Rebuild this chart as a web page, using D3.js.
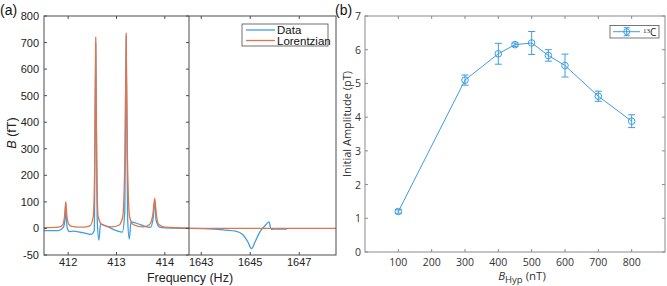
<!DOCTYPE html>
<html>
<head>
<meta charset="utf-8">
<script src="https://cdn.jsdelivr.net/npm/d3@7"></script>
<style>
  html, body { margin: 0; padding: 0; background: #fff; }
  svg { display: block; }
</style>
</head>
<body>
<div id="chart"></div>
<script>
// ---- panel (a): spectrum, broken frequency axis ----
const lowDataF  = [411.5, 411.8, 411.9, 411.935, 411.95, 411.965, 411.99, 412.03, 412.1, 412.3, 412.48, 412.54, 412.57, 412.6, 412.635, 412.67, 412.8, 413.0, 413.12, 413.17, 413.2, 413.23, 413.265, 413.3, 413.5, 413.7, 413.76, 413.79, 413.82, 413.9, 414.2, 414.5];
const lowDataB  = [-4, -4, 4, 40, 95, 30, -2, -6, -5, -8, -11, -4, 700, 40, -22, 16, 8, -4, -7, 60, 725, 40, -20, 25, 14, 4, 40, 105, 30, 4, 1, 0];
const lowFitF   = [411.5, 411.8, 411.88, 411.925, 411.945, 411.95, 411.955, 411.975, 412.02, 412.1, 412.3, 412.45, 412.52, 412.55, 412.565, 412.57, 412.575, 412.59, 412.62, 412.7, 412.9, 413.05, 413.13, 413.175, 413.195, 413.2, 413.205, 413.225, 413.27, 413.35, 413.55, 413.68, 413.75, 413.78, 413.79, 413.8, 413.83, 413.88, 414.0, 414.5];
const lowFitB   = [3, 5, 12, 45, 90, 100, 90, 45, 14, 7, 5, 10, 45, 250, 600, 720, 600, 250, 45, 14, 6, 12, 45, 280, 620, 735, 620, 280, 45, 14, 6, 14, 50, 100, 113, 100, 45, 14, 5, 2];
const highDataF = [1642.5, 1643.5, 1644.0, 1644.4, 1644.7, 1644.9, 1645.05, 1645.2, 1645.4, 1645.6, 1645.77, 1645.82, 1645.87, 1646.0, 1646.5];
const highDataB = [0, -1, -3, -5, -12, -25, -38, -25, -6, 10, 25, 5, -2, -1, -1];
const highFitF  = [1642.5, 1648.5];
const highFitB  = [0, 0];
const yTicksA   = [-50, 0, 100, 200, 300, 400, 500, 600, 700, 800];
const lowTicks  = [412, 413, 414];
const highTicks = [1643, 1645, 1647];

// ---- panel (b): initial amplitude vs B_Hyp ----
const bHyp      = [100, 300, 400, 450, 500, 550, 600, 700, 800];
const amplitude = [1.2, 5.1, 5.88, 6.15, 6.2, 5.83, 5.53, 4.62, 3.88];
const ampErr    = [0.05, 0.15, 0.31, 0.05, 0.34, 0.17, 0.34, 0.15, 0.19];
const xTicksB   = [100, 200, 300, 400, 500, 600, 700, 800];
const yTicksB   = [0, 1, 2, 3, 4, 5, 6, 7];

const W = 667, H = 286;
const BLUE = "#3f9de0", ORANGE = "#e3734a";
const AX_A = "#4d4d4d", AX_B = "#8a8a8a";
const FONT_A = "'Liberation Sans', Arial, sans-serif";
const FONT_B = "'Open Sans', 'DejaVu Sans', sans-serif";
const TICK = 3;

const svg = d3.select("#chart").append("svg")
  .attr("width", W).attr("height", H);

/* ================= panel (a) ================= */
const A = { left: 44, mid: 189, right: 336, top: 16, bottom: 255 };
const yA = d3.scaleLinear()
  .domain([-50, 0, 800])
  .range([A.bottom, A.top + (A.bottom - A.top) * 8 / 9, A.top]);
const xLow  = d3.scaleLinear().domain([411.5, 414.5]).range([A.left, A.mid]);
const xHigh = d3.scaleLinear().domain([1642.5, 1648.5]).range([A.mid, A.right]);

const ga = svg.append("g").style("font-family", FONT_A);

const defs = svg.append("defs");
defs.append("clipPath").attr("id", "clipLow").append("rect")
  .attr("x", A.left).attr("y", A.top).attr("width", A.mid - A.left).attr("height", A.bottom - A.top);
defs.append("clipPath").attr("id", "clipHigh").append("rect")
  .attr("x", A.mid).attr("y", A.top).attr("width", A.right - A.mid).attr("height", A.bottom - A.top);

function drawSeries(xs, ys, xScale, color, clip) {
  const pts = xs.map((f, i) => [xScale(f), yA(ys[i])]);
  ga.append("path").datum(pts)
    .attr("clip-path", `url(#${clip})`)
    .attr("fill", "none").attr("stroke", color).attr("stroke-width", 1.3)
    .attr("stroke-linejoin", "round")
    .attr("d", d3.line().curve(d3.curveMonotoneX));
}
drawSeries(lowDataF, lowDataB, xLow, BLUE, "clipLow");
drawSeries(highDataF, highDataB, xHigh, BLUE, "clipHigh");
drawSeries(lowFitF, lowFitB, xLow, ORANGE, "clipLow");
drawSeries(highFitF, highFitB, xHigh, ORANGE, "clipHigh");

/* frame + ticks */
const frameA = ga.append("g").attr("stroke", AX_A).attr("stroke-width", 1).attr("fill", "none");
frameA.append("rect").attr("x", A.left).attr("y", A.top)
  .attr("width", A.right - A.left).attr("height", A.bottom - A.top);
frameA.append("line").attr("x1", A.mid).attr("x2", A.mid).attr("y1", A.top).attr("y2", A.bottom);

yTicksA.forEach(v => {
  const y = yA(v);
  frameA.append("line").attr("x1", A.left).attr("x2", A.left + TICK).attr("y1", y).attr("y2", y);
  frameA.append("line").attr("x1", A.mid - TICK).attr("x2", A.mid).attr("y1", y).attr("y2", y);
  ga.append("text").attr("x", A.left - 5).attr("y", y + 4)
    .attr("text-anchor", "end").style("font-size", "11px").style("fill", "#222").text(v);
});
[[lowTicks, xLow], [highTicks, xHigh]].forEach(([ticks, sc]) => {
  ticks.forEach(t => {
    const x = sc(t);
    frameA.append("line").attr("x1", x).attr("x2", x).attr("y1", A.bottom).attr("y2", A.bottom - TICK);
    frameA.append("line").attr("x1", x).attr("x2", x).attr("y1", A.top).attr("y2", A.top + TICK);
    ga.append("text").attr("x", x).attr("y", A.bottom + 11)
      .attr("text-anchor", "middle").style("font-size", "11px").style("fill", "#222").text(t);
  });
});

ga.append("text").attr("x", (A.left + A.right) / 2).attr("y", 282)
  .attr("text-anchor", "middle").style("font-size", "12.5px").style("fill", "#222")
  .text("Frequency (Hz)");

const yLabA = ga.append("text").attr("transform", `translate(16,133) rotate(-90)`)
  .attr("text-anchor", "middle").style("font-size", "12.5px").style("fill", "#222");
yLabA.append("tspan").style("font-style", "italic").text("B");
yLabA.append("tspan").text(" (fT)");

ga.append("text").attr("x", 0).attr("y", 15).style("font-size", "14px").style("fill", "#111").text("(a)");

/* legend (a) */
const legA = ga.append("g");
legA.append("rect").attr("x", 242).attr("y", 24).attr("width", 86).attr("height", 22)
  .attr("fill", "#fff").attr("stroke", AX_A).attr("stroke-width", 0.8);
[["Data", BLUE], ["Lorentzian", ORANGE]].forEach(([lab, c], i) => {
  const y = 30 + i * 10.5;
  legA.append("line").attr("x1", 246).attr("x2", 275).attr("y1", y).attr("y2", y)
    .attr("stroke", c).attr("stroke-width", 1.3);
  legA.append("text").attr("x", 277).attr("y", y + 4)
    .style("font-size", "11.5px").style("fill", "#111").text(lab);
});

/* ================= panel (b) ================= */
const B = { left: 365, right: 665, top: 16, bottom: 252 };
const xB = d3.scaleLinear().domain([0, 900]).range([B.left, B.right]);
const yB = d3.scaleLinear().domain([0, 7]).range([B.bottom, B.top]);
const gb = svg.append("g").style("font-family", FONT_B);

const frameB = gb.append("g").attr("stroke", AX_B).attr("stroke-width", 1).attr("fill", "none");
frameB.append("rect").attr("x", B.left).attr("y", B.top)
  .attr("width", B.right - B.left).attr("height", B.bottom - B.top);
xTicksB.forEach(t => {
  const x = xB(t);
  frameB.append("line").attr("x1", x).attr("x2", x).attr("y1", B.bottom).attr("y2", B.bottom - TICK);
  frameB.append("line").attr("x1", x).attr("x2", x).attr("y1", B.top).attr("y2", B.top + TICK);
  gb.append("text").attr("x", x).attr("y", B.bottom + 13.5)
    .attr("text-anchor", "middle").style("font-size", "10.5px").style("fill", "#333").text(t);
});
yTicksB.forEach(t => {
  const y = yB(t);
  frameB.append("line").attr("x1", B.left).attr("x2", B.left + TICK).attr("y1", y).attr("y2", y);
  frameB.append("line").attr("x1", B.right - TICK).attr("x2", B.right).attr("y1", y).attr("y2", y);
  gb.append("text").attr("x", B.left - 4).attr("y", y + 4)
    .attr("text-anchor", "end").style("font-size", "10.5px").style("fill", "#333").text(t);
});

const ptsB = bHyp.map((b, i) => ({ b, a: amplitude[i], e: ampErr[i] }));
gb.append("path").datum(ptsB)
  .attr("fill", "none").attr("stroke", BLUE).attr("stroke-width", 1)
  .attr("d", d3.line().x(d => xB(d.b)).y(d => yB(d.a)));

const eb = gb.append("g").attr("stroke", BLUE).attr("stroke-width", 1).attr("fill", "none");
ptsB.forEach(d => {
  const x = xB(d.b), y1 = yB(d.a + d.e), y2 = yB(d.a - d.e);
  eb.append("line").attr("x1", x).attr("x2", x).attr("y1", y1).attr("y2", y2);
  eb.append("line").attr("x1", x - 3.5).attr("x2", x + 3.5).attr("y1", y1).attr("y2", y1);
  eb.append("line").attr("x1", x - 3.5).attr("x2", x + 3.5).attr("y1", y2).attr("y2", y2);
  eb.append("circle").attr("cx", x).attr("cy", yB(d.a)).attr("r", 3.3);
});

const xLabB = gb.append("text").attr("x", 522).attr("y", 279.5)
  .attr("text-anchor", "middle").style("font-size", "11.5px").style("fill", "#333");
xLabB.append("tspan").style("font-style", "italic").text("B");
xLabB.append("tspan").attr("dy", 3.5).style("font-size", "9.5px").text("Hyp");
xLabB.append("tspan").attr("dy", -3.5).text(" (nT)");

gb.append("text").attr("transform", `translate(351,124) rotate(-90)`)
  .attr("text-anchor", "middle").style("font-size", "11px").style("fill", "#333")
  .text("Initial Amplitude (pT)");

svg.append("text").attr("x", 335).attr("y", 15)
  .style("font-family", FONT_A).style("font-size", "14px").style("fill", "#111").text("(b)");

/* legend (b) */
const legB = gb.append("g");
legB.append("rect").attr("x", 610).attr("y", 25.5).attr("width", 49).attr("height", 12.5)
  .attr("fill", "#fff").attr("stroke", "#555").attr("stroke-width", 0.8);
const ly = 31.7, lx = 626.7;
legB.append("line").attr("x1", 613).attr("x2", 640).attr("y1", ly).attr("y2", ly)
  .attr("stroke", BLUE).attr("stroke-width", 1);
legB.append("line").attr("x1", lx).attr("x2", lx).attr("y1", ly - 4).attr("y2", ly + 4)
  .attr("stroke", BLUE).attr("stroke-width", 1);
[ly - 4, ly + 4].forEach(y => legB.append("line").attr("x1", lx - 3).attr("x2", lx + 3)
  .attr("y1", y).attr("y2", y).attr("stroke", BLUE).attr("stroke-width", 1));
legB.append("circle").attr("cx", lx).attr("cy", ly).attr("r", 3)
  .attr("fill", "none").attr("stroke", BLUE).attr("stroke-width", 1);
const legT = legB.append("text").attr("x", 643).attr("y", ly + 4)
  .style("font-family", "'Liberation Serif', serif").style("fill", "#222");
legT.append("tspan").attr("dy", -3).style("font-size", "7px").text("13");
legT.append("tspan").attr("dy", 3).style("font-size", "10px").style("font-family", FONT_B).text("C");
</script>
</body>
</html>
